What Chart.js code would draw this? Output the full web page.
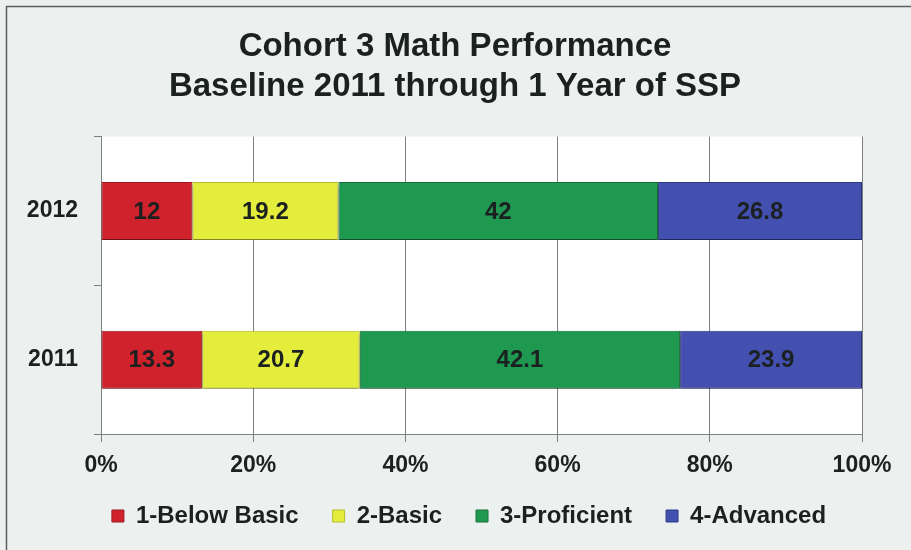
<!DOCTYPE html>
<html>
<head>
<meta charset="utf-8">
<script src="https://cdn.jsdelivr.net/npm/chart.js@4/dist/chart.umd.min.js"></script>
<style>
  html, body { margin: 0; padding: 0; background: #ecf0ef; }
  canvas { display: block; }
</style>
</head>
<body>
<canvas id="c" width="911" height="550"></canvas>
<script>
const categories = ['2012', '2011'];
const seriesNames = ['1-Below Basic', '2-Basic', '3-Proficient', '4-Advanced'];
const belowBasic = [12, 13.3];
const basic = [19.2, 20.7];
const proficient = [42, 42.1];
const advanced = [26.8, 23.9];
const xTicks = [0, 20, 40, 60, 80, 100];
const titleLines = ['Cohort 3 Math Performance', 'Baseline 2011 through 1 Year of SSP'];

const fills = ['#cf222c', '#e4ed3b', '#1f9850', '#4450b0'];
const edges = ['#9e1a20', '#b7bf2a', '#16713b', '#2f3a86'];
const textColor = '#1b2020';
const FONT = '"Liberation Sans", Arial, sans-serif';

const bgPlugin = {
  id: 'bg',
  beforeDraw(chart) {
    const ctx = chart.ctx, a = chart.chartArea;
    ctx.save();
    ctx.fillStyle = '#ecf0ef';
    ctx.fillRect(0, 0, chart.width, chart.height);
    ctx.strokeStyle = '#5a5f5f';
    ctx.lineWidth = 1.5;
    ctx.strokeRect(6.5, 6.5, chart.width + 20, chart.height + 20);
    ctx.fillStyle = '#ffffff';
    ctx.fillRect(a.left, a.top, a.right - a.left, a.bottom - a.top);
    ctx.restore();
  }
};

// nudge the title / legend boxes so they sit where the reference has them
const placePlugin = {
  id: 'place',
  afterLayout(chart) {
    const t = chart.titleBlock;
    if (t) { t.left += 19; t.right += 19; }
    const l = chart.legend;
    if (l) { l.left += 33; l.right += 33; l.top -= 10; l.bottom -= 10; }
  }
};

const shadowPlugin = {
  id: 'barShadow',
  beforeDatasetsDraw(chart) {
    const ctx = chart.ctx;
    ctx.save();
    ctx.shadowColor = 'rgba(0,0,0,0.35)';
    ctx.shadowBlur = 4;
    ctx.shadowOffsetX = 0;
    ctx.shadowOffsetY = 3;
  },
  afterDatasetsDraw(chart) {
    chart.ctx.restore();
  }
};

const labelPlugin = {
  id: 'valueLabels',
  afterDatasetsDraw(chart) {
    const ctx = chart.ctx;
    ctx.save();
    ctx.font = 'bold 24px ' + FONT;
    ctx.fillStyle = textColor;
    ctx.textAlign = 'center';
    ctx.textBaseline = 'middle';
    chart.data.datasets.forEach((ds, di) => {
      const meta = chart.getDatasetMeta(di);
      meta.data.forEach((bar, i) => {
        const p = bar.getProps(['x', 'base', 'y'], true);
        const cx = (p.x + p.base) / 2;
        ctx.fillText(String(ds.data[i]), cx, p.y + 1);
      });
    });
    ctx.restore();
  }
};

const seriesData = [belowBasic, basic, proficient, advanced];
const datasets = seriesNames.map((name, k) => ({
  label: name,
  data: seriesData[k],
  backgroundColor: fills[k],
  borderColor: edges[k],
  borderWidth: 1,
  borderSkipped: false,
  categoryPercentage: 1,
  barPercentage: 0.39
}));

new Chart(document.getElementById('c'), {
  type: 'bar',
  data: { labels: categories, datasets: datasets },
  options: {
    indexAxis: 'y',
    responsive: false,
    animation: false,
    events: [],
    layout: { padding: { left: 10, right: 49, top: 0, bottom: 2 } },
    plugins: {
      title: {
        display: true,
        text: titleLines,
        color: textColor,
        font: { family: FONT, size: 33, weight: 'bold', lineHeight: 1.22 },
        padding: { top: 27, bottom: 29 }
      },
      legend: {
        position: 'bottom',
        labels: {
          color: textColor,
          font: { family: FONT, size: 24, weight: 'bold' },
          boxWidth: 12,
          boxHeight: 12,
          padding: 34,
          generateLabels(chart) {
            return chart.data.datasets.map((ds, i) => ({
              text: ds.label,
              fillStyle: ds.backgroundColor,
              strokeStyle: ds.borderColor,
              lineWidth: 1,
              fontColor: textColor,
              datasetIndex: i,
              hidden: false
            }));
          }
        }
      },
      tooltip: { enabled: false }
    },
    scales: {
      x: {
        stacked: true,
        min: 0,
        max: 100,
        afterFit(scale) { scale.height = 46; },
        afterBuildTicks(scale) { scale.ticks = xTicks.map(v => ({ value: v })); },
        ticks: {
          color: textColor,
          padding: 10,
          font: { family: FONT, size: 23, weight: 'bold' },
          callback: v => v + '%'
        },
        grid: { color: '#7c8181', lineWidth: 1, tickLength: 8, drawTicks: true },
        border: { color: '#7c8181', width: 1 }
      },
      y: {
        stacked: true,
        afterFit(scale) { scale.width = 91; },
        ticks: {
          color: textColor,
          padding: 16,
          font: { family: FONT, size: 23, weight: 'bold' }
        },
        grid: { drawOnChartArea: false, drawTicks: true, tickLength: 7, color: '#7c8181', offset: true },
        border: { color: '#7c8181', width: 1 }
      }
    }
  },
  plugins: [bgPlugin, placePlugin, shadowPlugin, labelPlugin]
});
</script>
</body>
</html>
